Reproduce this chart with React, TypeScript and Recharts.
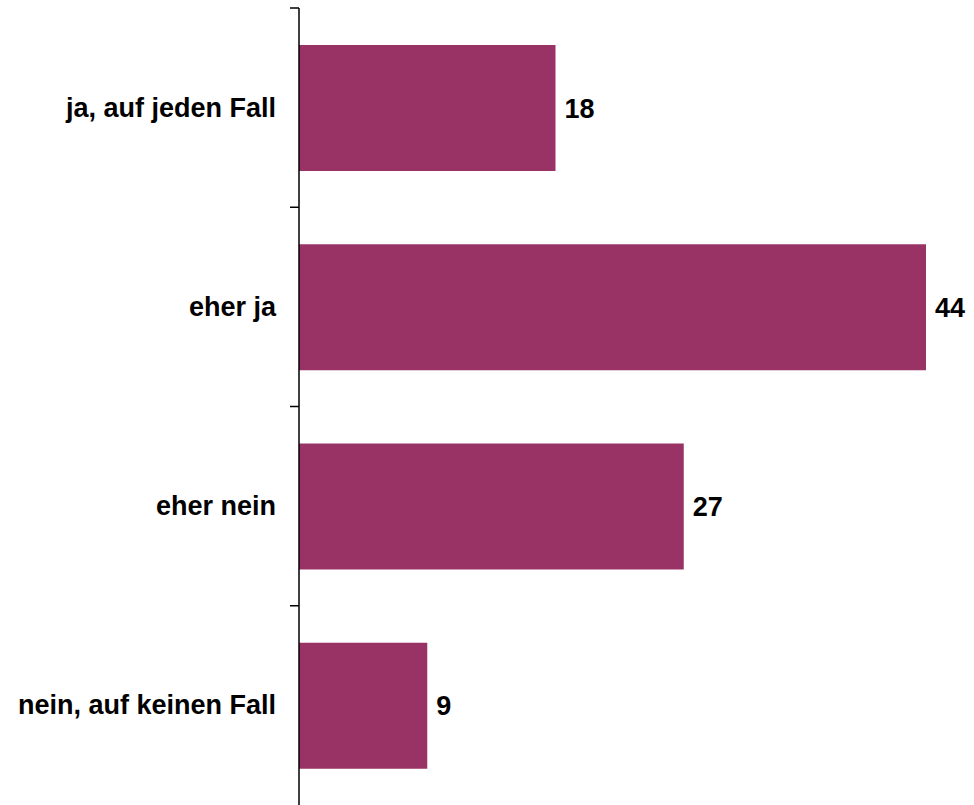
import React from 'react';
import { BarChart, Bar, XAxis, YAxis, LabelList } from 'recharts';

const categories = ['ja, auf jeden Fall', 'eher ja', 'eher nein', 'nein, auf keinen Fall'];
const values = [18, 44, 27, 9];

const data = categories.map((name, i) => ({ name, value: values[i] }));

const FONT = '"Liberation Sans", Arial, sans-serif';
const CHART_W = 974;
const CHART_H = 805;
const MARGIN = { top: 8, right: 48, bottom: 0, left: 0 };
const AXIS_W = 299;
const TICK_LEN = 9;
const HALF_BAND = (CHART_H - MARGIN.top - MARGIN.bottom) / categories.length / 2;

function CategoryTick(props: any) {
  const { y, payload } = props;
  const axisX = AXIS_W;
  return (
    <g>
      <line x1={axisX - TICK_LEN} x2={axisX} y1={y - HALF_BAND} y2={y - HALF_BAND} stroke="#000" strokeWidth={1.5} />
      <text
        x={axisX - 23}
        y={y}
        textAnchor="end"
        dominantBaseline="central"
        fill="#000"
        fontSize={27}
        fontWeight="bold"
        fontFamily={FONT}
      >
        {payload.value}
      </text>
    </g>
  );
}

export default function App() {
  return (
    <div style={{ position: 'fixed', top: 0, left: 0, width: CHART_W, height: CHART_H, background: '#fff' }}>
      <BarChart
        width={CHART_W}
        height={CHART_H}
        data={data}
        layout="vertical"
        margin={MARGIN}
        barCategoryGap={0}
      >
        <XAxis type="number" domain={[0, 44]} hide />
        <YAxis
          type="category"
          dataKey="name"
          width={AXIS_W}
          axisLine={{ stroke: '#000', strokeWidth: 1.5 }}
          tickLine={false}
          tick={<CategoryTick />}
          interval={0}
        />
        <Bar dataKey="value" fill="#993366" barSize={126} isAnimationActive={false}>
          <LabelList
            dataKey="value"
            position="right"
            offset={9}
            style={{ fill: '#000', fontSize: 27, fontWeight: 'bold', fontFamily: FONT }}
          />
        </Bar>
      </BarChart>
    </div>
  );
}
